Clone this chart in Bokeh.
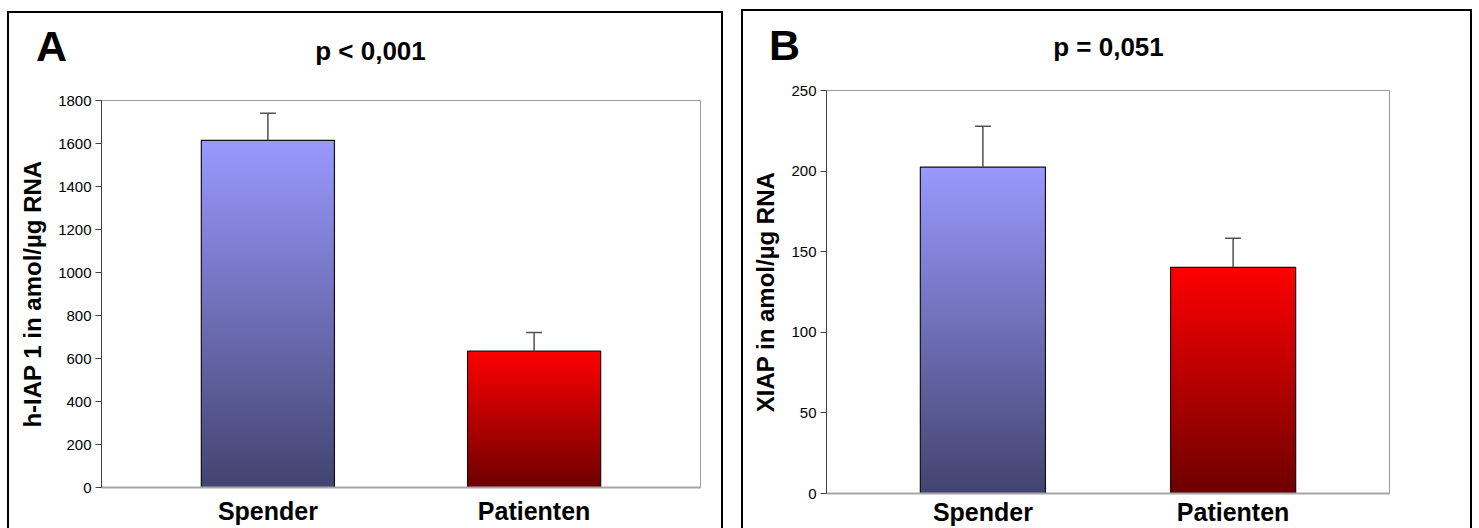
import numpy as np
from bokeh.plotting import figure
from bokeh.models import Range1d, FixedTicker, Whisker, ColumnDataSource, TeeHead
from bokeh.core.properties import value
from bokeh.embed import file_html
from bokeh.resources import INLINE

# ---------------- data ----------------
categories = ["Spender", "Patienten"]
hiap_values = [1615, 634]
hiap_errors = [126, 87]
xiap_values = [202.5, 140.3]
xiap_errors = [25.3, 18.0]
hiap_ticks = [0, 200, 400, 600, 800, 1000, 1200, 1400, 1600, 1800]
xiap_ticks = [0, 50, 100, 150, 200, 250]
panel_letters = ["A", "B"]
p_texts = ["p < 0,001", "p = 0,051"]
y_labels = ["h-IAP 1 in amol/µg RNA", "XIAP in amol/µg RNA"]

# ---------------- style ----------------
FONT = "Liberation Sans"
TOP_COLORS = [(153, 153, 255), (255, 0, 0)]
BOTTOM_COLORS = [(68, 68, 112), (110, 0, 0)]
BAR_WIDTH = 0.5
X_RANGE = (0.375, 2.625)


def gradient_image(top, bottom, n=256):
    t = np.linspace(0.0, 1.0, n)[:, None]  # row 0 = bottom of bar
    top = np.array(top, dtype=float)
    bottom = np.array(bottom, dtype=float)
    rgb = bottom + (top - bottom) * t
    img = np.empty((n, 1), dtype=np.uint32)
    view = img.view(dtype=np.uint8).reshape((n, 1, 4))
    view[:, 0, 0] = rgb[:, 0]
    view[:, 0, 1] = rgb[:, 1]
    view[:, 0, 2] = rgb[:, 2]
    view[:, 0, 3] = 255
    return img


def make_chart(values, errors, ticks, ylabel, box, borders, xlabel_standoff):
    left, top, width, height = box
    ymax = ticks[-1]
    p = figure(width=width, height=height,
               x_range=Range1d(*X_RANGE), y_range=Range1d(0, ymax),
               output_backend="svg", toolbar_location=None, tools="",
               min_border_left=borders[0], min_border_right=borders[1],
               min_border_top=borders[2], min_border_bottom=borders[3])
    p.grid.visible = False
    p.outline_line_color = "#999999"
    p.outline_line_width = 1
    p.background_fill_color = "white"
    p.border_fill_color = "white"

    xs = [i + 1 for i in range(len(categories))]
    for i, (xc, v) in enumerate(zip(xs, values)):
        p.image_rgba(image=[gradient_image(TOP_COLORS[i], BOTTOM_COLORS[i])],
                     x=xc - BAR_WIDTH / 2, y=0, dw=BAR_WIDTH, dh=v)
    p.vbar(x=xs, top=values, width=BAR_WIDTH, fill_alpha=0,
           line_color="#111111", line_width=1.2)

    src = ColumnDataSource(dict(x=xs, lower=values,
                                upper=[v + e for v, e in zip(values, errors)]))
    wk = Whisker(base="x", lower="lower", upper="upper", source=src,
                 dimension="height", line_color="#505050", line_width=1.5,
                 lower_head=None,
                 upper_head=TeeHead(size=16, line_color="#505050", line_width=1.5))
    wk.level = "overlay"
    p.add_layout(wk)

    ya = p.yaxis[0]
    ya.ticker = FixedTicker(ticks=ticks)
    ya.major_tick_out = 6
    ya.major_tick_in = 0
    ya.minor_tick_out = 0
    ya.minor_tick_in = 0
    ya.axis_line_color = "#404040"
    ya.major_tick_line_color = "#404040"
    ya.major_label_text_font = FONT
    ya.major_label_text_font_size = "15px"
    ya.major_label_text_color = "black"
    ya.major_label_standoff = 4
    ya.axis_label = ylabel
    ya.axis_label_text_font = FONT
    ya.axis_label_text_font_style = "bold"
    ya.axis_label_text_font_size = "24px"
    ya.axis_label_text_color = "black"
    ya.axis_label_standoff = 9

    xa = p.xaxis[0]
    xa.ticker = FixedTicker(ticks=xs)
    xa.major_label_overrides = {x: c for x, c in zip(xs, categories)}
    xa.major_tick_out = 0
    xa.major_tick_in = 0
    xa.minor_tick_out = 0
    xa.minor_tick_in = 0
    xa.axis_line_color = "#a6a6a6"
    xa.axis_line_width = 2
    xa.major_label_text_font = FONT
    xa.major_label_text_font_style = "bold"
    xa.major_label_text_font_size = "25px"
    xa.major_label_text_color = "black"
    xa.major_label_standoff = xlabel_standoff

    p.styles = {"position": "absolute", "left": f"{left}px", "top": f"{top}px",
                "border-top": "2px solid black", "border-left": "2px solid black",
                "border-right": "2px solid black", "box-sizing": "border-box"}
    return p


def make_header(letter, ptext, box, letter_pos, title_pos):
    # transparent overlay whose data units are pixels from its top-left corner
    left, top, width, height = box
    h = figure(width=width, height=height,
               x_range=Range1d(0, width), y_range=Range1d(height, 0),
               output_backend="svg", toolbar_location=None, tools="",
               x_axis_type=None, y_axis_type=None,
               min_border=0, outline_line_color=None)
    h.grid.visible = False
    h.background_fill_alpha = 0
    h.border_fill_alpha = 0
    h.text(x=[letter_pos[0]], y=[letter_pos[1]], text=[letter],
           text_font=value(FONT), text_font_style="bold", text_font_size="43px",
           text_align="center", text_baseline="middle", text_color="black")
    h.text(x=[title_pos[0]], y=[title_pos[1]], text=[ptext],
           text_font=value(FONT), text_font_style="bold", text_font_size="26px",
           text_align="center", text_baseline="middle", text_color="black")
    h.styles = {"position": "absolute", "left": f"{left}px", "top": f"{top}px",
                "pointer-events": "none"}
    return h


chartA = make_chart(hiap_values, hiap_errors, hiap_ticks, y_labels[0],
                    box=(7, 11, 716, 517), borders=(92, 25, 87, 43), xlabel_standoff=9)
chartB = make_chart(xiap_values, xiap_errors, xiap_ticks, y_labels[1],
                    box=(741, 9, 731, 519), borders=(83, 85, 79, 37), xlabel_standoff=4)
headA = make_header(panel_letters[0], p_texts[0], box=(9, 13, 700, 80),
                    letter_pos=(42, 32), title_pos=(361, 37))
headB = make_header(panel_letters[1], p_texts[1], box=(743, 11, 700, 70),
                    letter_pos=(41, 33), title_pos=(365, 35))

open("out.html", "w").write(file_html([chartA, chartB, headA, headB], INLINE))
